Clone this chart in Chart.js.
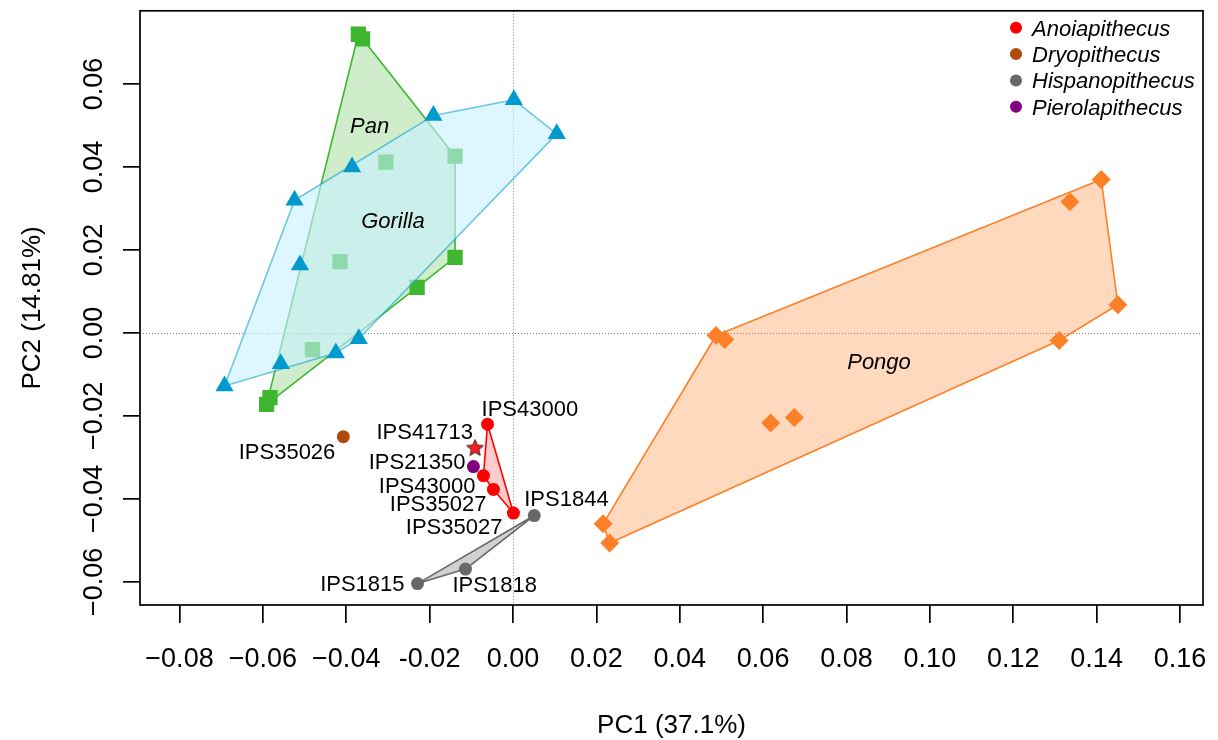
<!DOCTYPE html>
<html><head><meta charset="utf-8">
<script src="https://cdn.jsdelivr.net/npm/chart.js@4.4.1/dist/chart.umd.min.js"></script>
<style>html,body{margin:0;padding:0;background:#fff;overflow:hidden}#wrap{width:1218px;height:740px}</style>
</head><body><div id="wrap"><canvas id="c" width="1218" height="740"></canvas></div>
<script>
// ---------- axis ticks ----------
const xTickValues = [-0.08,-0.06,-0.04,-0.02,0,0.02,0.04,0.06,0.08,0.10,0.12,0.14,0.16];
const xTickLabels = ['\u22120.08','\u22120.06','\u22120.04','-0.02','0.00','0.02','0.04','0.06','0.08','0.10','0.12','0.14','0.16'];
const yTickValues = [-0.06,-0.04,-0.02,0,0.02,0.04,0.06];
const yTickLabels = ['\u22120.06','\u22120.04','\u22120.02','0.00','0.02','0.04','0.06'];
const xTitle = 'PC1 (37.1%)';
const yTitle = 'PC2 (14.81%)';

// ---------- data (PC1, PC2) ----------
const panX = [-0.0371,-0.0361,-0.0139,-0.0305,-0.0139,-0.0230,-0.0415,-0.0481,-0.0583,-0.0591];
const panY = [ 0.0720, 0.0709, 0.0426, 0.0412, 0.0182, 0.0110, 0.0172,-0.0040,-0.0156,-0.0172];

const gorillaX = [ 0.0002, 0.0105,-0.0191,-0.0386,-0.0524,-0.0511,-0.0370,-0.0425,-0.0557,-0.0692];
const gorillaY = [ 0.0562, 0.0480, 0.0524, 0.0400, 0.0320, 0.0164,-0.0014,-0.0048,-0.0074,-0.0128];

const pongoX = [0.0216,0.0232,0.0487,0.0508,0.0618,0.0675,0.1310,0.1336,0.1411,0.1451];
const pongoY = [-0.0460,-0.0506,-0.0006,-0.0016,-0.0217,-0.0204,-0.0018,0.0316,0.0370,0.0068];

const anoiaX = [-0.0061,-0.0071,-0.0047,0.0001];
const anoiaY = [-0.0220,-0.0344,-0.0377,-0.0434];
const anoiaNames = ['IPS43000','IPS43000','IPS35027','IPS35027'];

const starX = [-0.0091];
const starY = [-0.0276];
const starNames = ['IPS41713'];

const pieroX = [-0.0095];
const pieroY = [-0.0322];
const pieroNames = ['IPS21350'];

const dryoX = [-0.0407];
const dryoY = [-0.0250];
const dryoNames = ['IPS35026'];

const hispX = [0.0051,-0.0114,-0.0229];
const hispY = [-0.0440,-0.0569,-0.0604];
const hispNames = ['IPS1844','IPS1818','IPS1815'];

const legendNames = ['Anoiapithecus','Dryopithecus','Hispanopithecus','Pierolapithecus'];

// group name annotations (data coordinates)
const groupNames = ['Pan','Gorilla','Pongo'];
const groupNameX = [-0.0344,-0.0288,0.0878];
const groupNameY = [0.0501,0.0273,-0.0068];

// ---------- styling ----------
const FONT = '"Liberation Sans", Arial, Helvetica, sans-serif';
const COL = {
  pan: 'rgb(62,182,48)', panFill: 'rgba(62,182,48,0.25)',
  gor: 'rgb(0,154,205)', gorLine: 'rgba(0,154,205,0.55)', gorFill: 'rgba(200,240,255,0.6)',
  pongo: 'rgb(252,128,40)', pongoFill: 'rgba(252,128,40,0.3)',
  hisp: 'rgb(104,104,104)', hispFill: 'rgba(104,104,104,0.3)',
  anoia: 'rgb(255,0,0)', anoiaFill: 'rgba(255,0,0,0.2)',
  dryo: 'rgb(176,74,10)', piero: 'rgb(128,0,128)'
};
const legendColors = [COL.anoia, COL.dryo, COL.hisp, COL.piero];

const labelPlacement = {
  anoia: [{dx:-6,dy:-16,align:'left'},{dx:-8,dy:9,align:'right'},{dx:-7,dy:14,align:'right'},{dx:-11,dy:13,align:'right'}],
  star:  [{dx:-2,dy:-16,align:'right'}],
  piero: [{dx:-8,dy:-5.5,align:'right'}],
  dryo:  [{dx:-8,dy:14,align:'right'}],
  hisp:  [{dx:-10,dy:-17.5,align:'left'},{dx:-13,dy:15.5,align:'left'},{dx:-13,dy:0,align:'right'}]
};

const xMin = -0.089475, xMax = 0.165517;
const yMin = -0.06556, yMax = 0.07765;

// ---------- helpers ----------
function pts(xs, ys){ return xs.map((x,i)=>({x:x, y:ys[i]})); }
function hull(xs, ys){
  const p = pts(xs, ys).sort((a,b)=> a.x===b.x ? a.y-b.y : a.x-b.x);
  const cross=(o,a,b)=>(a.x-o.x)*(b.y-o.y)-(a.y-o.y)*(b.x-o.x);
  const lower=[], upper=[];
  for (const q of p){ while(lower.length>=2 && cross(lower[lower.length-2],lower[lower.length-1],q)<=0) lower.pop(); lower.push(q); }
  for (let i=p.length-1;i>=0;i--){ const q=p[i]; while(upper.length>=2 && cross(upper[upper.length-2],upper[upper.length-1],q)<=0) upper.pop(); upper.push(q); }
  upper.pop(); lower.pop();
  const h = lower.concat(upper);
  h.push({x:h[0].x, y:h[0].y});
  return h;
}
function makeStar(R, fill, stroke){
  const s = Math.ceil(R*2+4), c = document.createElement('canvas');
  c.width = s; c.height = s;
  const g = c.getContext('2d'), cx = s/2, cy = s/2 + R*0.1, r = R*0.46;
  g.beginPath();
  for (let i=0;i<10;i++){
    const a = -Math.PI/2 + i*Math.PI/5, rr = i%2 ? r : R;
    const px = cx + rr*Math.cos(a), py = cy + rr*Math.sin(a);
    i ? g.lineTo(px,py) : g.moveTo(px,py);
  }
  g.closePath(); g.fillStyle = fill; g.fill();
  g.lineWidth = 0.9; g.strokeStyle = stroke; g.stroke();
  return c;
}

function hullDS(xs, ys, line, fill, order){
  return {data: hull(xs, ys), showLine: true, pointRadius: 0, pointHoverRadius: 0,
    borderColor: line, borderWidth: 1.6, borderJoinStyle: 'round', fill: false,
    hullFill: fill, order: order, tension: 0};
}
function pointDS(xs, ys, color, style, radius, order, extra){
  return Object.assign({data: pts(xs, ys), showLine: false, pointStyle: style,
    pointRadius: radius, pointHoverRadius: radius, pointBackgroundColor: color,
    pointBorderWidth: 0, borderWidth: 0, order: order}, extra||{});
}

const datasets = [
  hullDS(panX, panY, COL.pan, COL.panFill, 100),
  pointDS(panX, panY, COL.pan, 'rect', 10.8, 99),
  hullDS(gorillaX, gorillaY, COL.gorLine, COL.gorFill, 98),
  pointDS(gorillaX, gorillaY, COL.gor, 'triangle', 10.5, 97),
  hullDS(pongoX, pongoY, COL.pongo, COL.pongoFill, 96),
  pointDS(pongoX, pongoY, COL.pongo, 'rectRot', 9.5, 95),
  hullDS(hispX, hispY, COL.hisp, COL.hispFill, 94),
  pointDS(hispX, hispY, COL.hisp, 'circle', 6.5, 93, {labels: hispNames, place: labelPlacement.hisp}),
  hullDS(anoiaX, anoiaY, COL.anoia, COL.anoiaFill, 92),
  pointDS(anoiaX, anoiaY, COL.anoia, 'circle', 6.5, 91, {labels: anoiaNames, place: labelPlacement.anoia}),
  pointDS(starX, starY, COL.anoia, makeStar(8.8, 'rgb(250,30,30)', '#222'), 8, 90, {labels: starNames, place: labelPlacement.star}),
  pointDS(pieroX, pieroY, COL.piero, 'circle', 6.5, 89, {labels: pieroNames, place: labelPlacement.piero}),
  pointDS(dryoX, dryoY, COL.dryo, 'circle', 6.5, 88, {labels: dryoNames, place: labelPlacement.dryo})
];

const decor = {
  id: 'decor',
  beforeDatasetsDraw(chart){
    const {ctx, chartArea:a, scales:{x, y}} = chart;
    ctx.save();
    ctx.strokeStyle = '#808080'; ctx.lineWidth = 1; ctx.setLineDash([1,2]);
    const x0 = Math.round(x.getPixelForValue(0)) + 0.5, y0 = Math.round(y.getPixelForValue(0)) + 0.5;
    ctx.beginPath(); ctx.moveTo(x0, a.top); ctx.lineTo(x0, a.bottom); ctx.stroke();
    ctx.beginPath(); ctx.moveTo(a.left, y0); ctx.lineTo(a.right, y0); ctx.stroke();
    ctx.restore();
  },
  beforeDatasetDraw(chart, args){
    const ds = chart.data.datasets[args.index];
    if (!ds.hullFill) return;
    const ctx = chart.ctx, p = args.meta.data;
    ctx.save();
    ctx.beginPath();
    p.forEach((e,i)=> i ? ctx.lineTo(e.x, e.y) : ctx.moveTo(e.x, e.y));
    ctx.closePath(); ctx.fillStyle = ds.hullFill; ctx.fill();
    ctx.restore();
  },
  afterDatasetsDraw(chart){
    const {ctx, chartArea:a, scales:{x, y}} = chart;
    ctx.save();
    // box
    ctx.strokeStyle = '#000'; ctx.lineWidth = 1.7;
    ctx.strokeRect(a.left, a.top, a.right - a.left, a.bottom - a.top);
    // point labels
    const lf = 22;
    ctx.fillStyle = '#000'; ctx.font = lf + 'px ' + FONT; ctx.textBaseline = 'alphabetic';
    chart.data.datasets.forEach((ds, di) => {
      if (!ds.labels) return;
      const meta = chart.getDatasetMeta(di);
      ds.labels.forEach((t, i) => {
        const e = meta.data[i], pl = ds.place[i];
        ctx.textAlign = pl.align;
        ctx.fillText(t, e.x + pl.dx, e.y + pl.dy + 0.358*lf);
      });
    });
    // group names
    ctx.font = 'italic ' + lf + 'px ' + FONT; ctx.textAlign = 'center';
    groupNames.forEach((t,i)=> ctx.fillText(t, x.getPixelForValue(groupNameX[i]), y.getPixelForValue(groupNameY[i]) + 0.358*lf));
    // legend
    ctx.textAlign = 'left';
    legendNames.forEach((t,i)=>{
      const cy = a.top + 17 + i*26.3;
      ctx.beginPath(); ctx.arc(a.right - 187, cy, 6, 0, Math.PI*2); ctx.fillStyle = legendColors[i]; ctx.fill();
      ctx.fillStyle = '#000'; ctx.fillText(t, a.right - 171, cy + 0.358*lf);
    });
    // tick labels
    const tf = 27;
    ctx.font = tf + 'px ' + FONT; ctx.textAlign = 'center';
    xTickValues.forEach((v,i)=> ctx.fillText(xTickLabels[i], x.getPixelForValue(v), a.bottom + 62));
    yTickValues.forEach((v,i)=>{
      ctx.save(); ctx.translate(a.left - 38, y.getPixelForValue(v)); ctx.rotate(-Math.PI/2);
      ctx.fillText(yTickLabels[i], 0, 0); ctx.restore();
    });
    // axis titles
    ctx.font = '26px ' + FONT;
    ctx.fillText(xTitle, (a.left + a.right)/2, 733);
    ctx.save(); ctx.translate(40, (a.top + a.bottom)/2); ctx.rotate(-Math.PI/2);
    ctx.fillText(yTitle, 0, 0); ctx.restore();
    ctx.restore();
  }
};

new Chart(document.getElementById('c'), {
  type: 'scatter',
  data: {datasets: datasets},
  options: {
    responsive: false, animation: false, devicePixelRatio: 1,
    layout: {padding: {top: 8, right: 15, left: 0, bottom: 0}},
    plugins: {legend: {display: false}, tooltip: {enabled: false}},
    events: [],
    scales: {
      x: {type: 'linear', min: xMin, max: xMax,
          afterBuildTicks: s => { s.ticks = xTickValues.map(v => ({value: v})); },
          afterFit: s => { s.height = 135; },
          ticks: {display: false},
          grid: {display: true, drawOnChartArea: false, drawTicks: true, tickLength: 18, color: '#000', lineWidth: 1.7},
          border: {display: false}},
      y: {type: 'linear', min: yMin, max: yMax,
          afterBuildTicks: s => { s.ticks = yTickValues.map(v => ({value: v})); },
          afterFit: s => { s.width = 140; },
          ticks: {display: false},
          grid: {display: true, drawOnChartArea: false, drawTicks: true, tickLength: 17, color: '#000', lineWidth: 1.7},
          border: {display: false}}
    }
  },
  plugins: [decor]
});
</script></body></html>
